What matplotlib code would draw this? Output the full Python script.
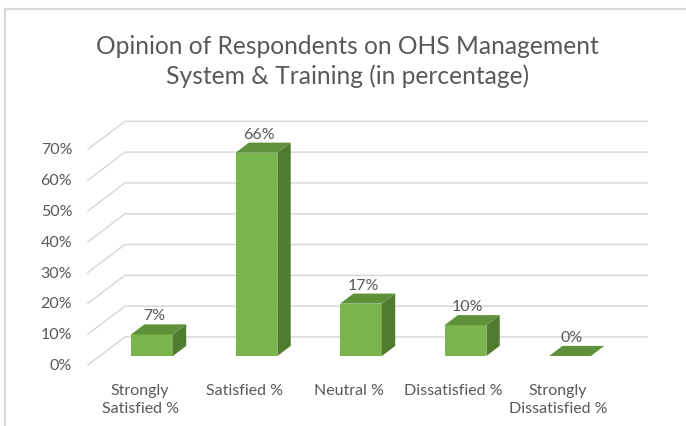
import matplotlib.pyplot as plt
from matplotlib.patches import Polygon
from matplotlib.lines import Line2D

categories = ['Strongly\nSatisfied %', 'Satisfied %', 'Neutral %',
              'Dissatisfied %', 'Strongly\nDissatisfied %']
values = [7, 66, 17, 10, 0]
ticks = [0, 10, 20, 30, 40, 50, 60, 70]
title = 'Opinion of Respondents on OHS Management\nSystem & Training (in percentage)'

plt.rcParams['font.family'] = ['Lato', 'DejaVu Sans']

# fake 3d: depth vector of the floor in data units (categories, percent)
DX, DY = 0.354, 9.09
F0 = 0.32   # where the bar front sits along the depth
BD = 0.36   # bar depth as a share of floor depth
W = 0.4

grid_c = '#D9D9D9'
text_c = '#595959'
front_c = '#79B44C'
top_c = '#5F903A'
side_c = '#517C2F'

fig = plt.figure(figsize=(6.86, 4.27), dpi=100)
ax = fig.add_axes([0, 0, 1, 1])
ax.set_xlim(-1.4545, 5.110)
ax.set_ylim(-22.73, 115.9)
ax.axis('off')

x_lo, x_hi = -0.5, len(categories) - 0.5

# gridlines: diagonal wall part + horizontal back part
for t in ticks:
    fx, fy = x_lo - F0 * DX, t - F0 * DY
    bx, by = x_lo + (1 - F0) * DX, t + (1 - F0) * DY
    ex = x_hi + (1 - F0) * DX
    ax.plot([fx, bx, ex], [fy, by, by], color=grid_c, lw=1.1, zorder=1)
    ax.text(fx - 0.15, fy, f'{t}%', ha='right', va='center',
            fontsize=11.5, color=text_c)

xs = list(range(len(categories)))
ax.bar(xs, values, width=W, color=front_c, zorder=3)

for x, v in zip(xs, values):
    l, r = x - W / 2, x + W / 2
    ddx, ddy = BD * DX, BD * DY
    top = [(l, v), (r, v), (r + ddx, v + ddy), (l + ddx, v + ddy)]
    side = [(r, 0), (r + ddx, ddy), (r + ddx, v + ddy), (r, v)]
    ax.add_patch(Polygon(side, closed=True, color=side_c, zorder=3, lw=0))
    ax.add_patch(Polygon(top, closed=True, color=top_c, zorder=4, lw=0))
    ax.text(x + 0.02, v + ddy + 0.6, f'{v}%', ha='center', va='bottom',
            fontsize=11.5, color=text_c, zorder=5)

for x, c in zip(xs, categories):
    ax.text(x - F0 * DX, -8.8, c, ha='center', va='top', fontsize=11.5,
            color=text_c, linespacing=1.35)

fig.text(0.506, 0.856, title, ha='center', va='center', fontsize=17.7,
         color=text_c, linespacing=1.3)

# chart border (top and left edges visible)
fig.add_artist(Line2D([5 / 686, 1], [1 - 10 / 427, 1 - 10 / 427],
                      transform=fig.transFigure, color=grid_c, lw=1.5))
fig.add_artist(Line2D([5 / 686, 5 / 686], [0, 1 - 10 / 427],
                      transform=fig.transFigure, color=grid_c, lw=1.5))

fig.savefig('out.png', dpi=100)
